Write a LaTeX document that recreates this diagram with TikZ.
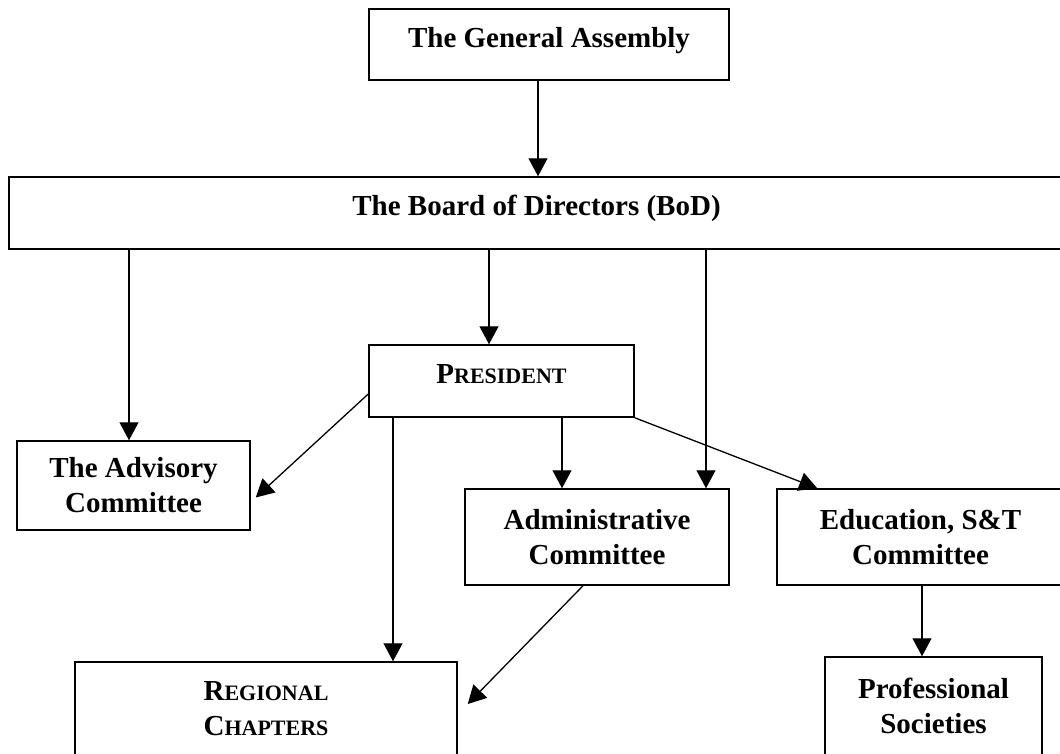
\documentclass[tikz,border=0pt]{standalone}
\usepackage{fontspec}
\setmainfont{Liberation Serif}
\usetikzlibrary{arrows.meta}
\newcommand\mysc[1]{{\fontsize{22}{35}\selectfont #1}}
\begin{document}
\begin{tikzpicture}[x=1pt,y=-1pt,
  box/.style={draw,line width=1.5pt,rectangle,inner sep=0pt,align=center,
    font=\bfseries\fontsize{29}{35}\selectfont},
  oneline/.style={text height=20pt,text depth=15pt},
  arr/.style={line width=1.3pt,-{Triangle[length=18pt,width=19pt]}}]
\useasboundingbox (0,0) rectangle (1060,753);
\clip (0,0) rectangle (1060,753);
\fill[white] (0,0) rectangle (1060,753);
\node[box,oneline,minimum width=360pt,minimum height=71pt] (ga) at (549,44.5) {The General Assembly};
\node[box,oneline,minimum width=1055pt,minimum height=72pt] (bod) at (536.5,213) {The Board of Directors (BoD)};
\node[box,oneline,minimum width=265pt,minimum height=72pt] (pres) at (501.5,381) {P\mysc{RESIDENT}};
\node[box,minimum width=233pt,minimum height=89pt] (adv) at (133.5,485.5) {The Advisory\\Committee};
\node[box,minimum width=264pt,minimum height=96pt] (adm) at (597,537) {Administrative\\Committee};
\node[box,minimum width=287pt,minimum height=96pt] (edu) at (920.5,537) {Education, S\&T\\Committee};
\node[box,minimum width=382pt,minimum height=93pt] (reg) at (266,708.5) {R\mysc{EGIONAL}\\C\mysc{HAPTERS}};
\node[box,minimum width=217pt,minimum height=98pt] (prof) at (933.5,706) {Professional\\Societies};
\draw[arr] (ga.south -| 538,0) -- (bod.north -| 538,0);
\draw[arr] (bod.south -| 129,0) -- (adv.north -| 129,0);
\draw[arr] (bod.south -| 489,0) -- (pres.north -| 489,0);
\draw[arr] (bod.south -| 706,0) -- (adm.north -| 706,0);
\draw[arr] (pres.south -| 562,0) -- (adm.north -| 562,0);
\draw[arr] (pres.south -| 393,0) -- (reg.north -| 393,0);
\draw[arr] (edu.south -| 922,0) -- (prof.north -| 922,0);
\draw[arr] ([yshift=-13pt]pres.west) -- ([xshift=5pt,yshift=-12pt]adv.east);
\draw[arr] (pres.south east) -- ([xshift=41pt]edu.north west);
\draw[arr] ([xshift=-14pt]adm.south) -- ([xshift=10pt,yshift=4.5pt]reg.east);
\end{tikzpicture}
\end{document}
